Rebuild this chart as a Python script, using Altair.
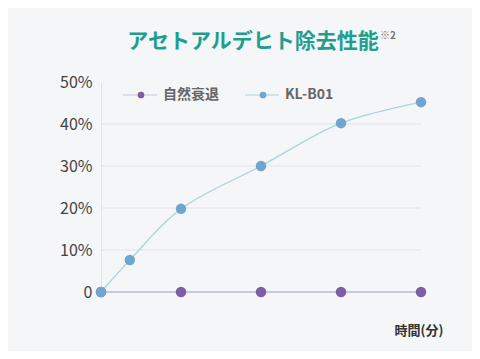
import altair as alt
import pandas as pd

# data
kl_time = [0, 0.36, 1, 2, 3, 4]
kl_vals = [0, 7.6, 19.8, 30.0, 40.2, 45.2]
nat_time = [0, 1, 2, 3, 4]
nat_vals = [0, 0, 0, 0, 0]
series_names = ["自然衰退", "KL-B01"]
y_ticks = [0, 10, 20, 30, 40, 50]
grid_vals = [10, 20, 30, 40]
title_text = "アセトアルデヒト除去性能"
title_note = "※2"
x_title = "時間(分)"

kl = pd.DataFrame({"t": kl_time, "v": kl_vals, "s": series_names[1]})
nat = pd.DataFrame({"t": nat_time, "v": nat_vals, "s": series_names[0]})
grid = pd.DataFrame({"g": grid_vals})

PURPLE_LINE = "#cdc5da"
PURPLE_DOT = "#7c5fa6"
BLUE_LINE = "#a9d3dd"
BLUE_DOT = "#70a5d2"

xs = alt.Scale(domain=[0, 4])
ys = alt.Scale(domain=[0, 50])

x_enc = alt.X("t:Q", scale=xs, axis=None)
y_axis = alt.Axis(values=y_ticks, grid=False, ticks=False, domain=True,
                  domainColor="#dfe3e6", labelFontSize=16, labelColor="#444444",
                  labelFont="Noto Sans CJK JP", labelFontWeight=400, labelPadding=9,
                  labelExpr="datum.value == 0 ? '0' : datum.value + '%'", title=None)
y_enc = alt.Y("v:Q", scale=ys, axis=y_axis)

gridlines = alt.Chart(grid).mark_rule(color="#dde5e8", strokeWidth=1).encode(
    y=alt.Y("g:Q", scale=ys, axis=y_axis), x=alt.value(0), x2=alt.value(320))

nat_line = alt.Chart(nat).mark_line(color=PURPLE_LINE, strokeWidth=2).encode(x=x_enc, y=y_enc)
kl_line = alt.Chart(kl).mark_line(color=BLUE_LINE, strokeWidth=1.3, interpolate="catmull-rom").encode(x=x_enc, y=y_enc)
nat_pts = alt.Chart(nat).mark_circle(color=PURPLE_DOT, size=110, opacity=1).encode(x=x_enc, y=y_enc)
kl_pts = alt.Chart(kl).mark_circle(color=BLUE_DOT, size=110, opacity=1).encode(x=x_enc, y=y_enc)

# legend
leg = pd.DataFrame({"s": series_names, "lx": [40, 162], "c": [PURPLE_DOT, BLUE_DOT],
                    "lc": [PURPLE_LINE, BLUE_LINE]})
leg_layers = []
for i, row in leg.iterrows():
    d = leg.iloc[[i]]
    leg_layers.append(alt.Chart(d).mark_rule(color=row["lc"], strokeWidth=1).encode(
        x=alt.value(row["lx"] - 18), x2=alt.value(row["lx"] + 16), y=alt.value(13)))
    leg_layers.append(alt.Chart(d).mark_circle(color=row["c"], size=45, opacity=1).encode(
        x=alt.value(row["lx"]), y=alt.value(13)))
    leg_layers.append(alt.Chart(d).mark_text(align="left", baseline="middle", fontSize=14,
                                             font="Noto Sans CJK JP", fontWeight="bold",
                                             color="#666666").encode(
        x=alt.value(row["lx"] + 22), y=alt.value(13), text="s:N"))

tdf = pd.DataFrame({"a": [title_text], "b": [title_note], "c": [x_title]})
title_m = alt.Chart(tdf).mark_text(align="center", baseline="middle", fontSize=21,
                                   font="Noto Sans CJK JP", fontWeight="bold",
                                   color="#1e9e8e").encode(
    x=alt.value(152), y=alt.value(-40), text="a:N")
note_m = alt.Chart(tdf).mark_text(align="left", baseline="middle", fontSize=10,
                                  font="Noto Sans CJK JP", fontWeight="bold",
                                  color="#777777").encode(
    x=alt.value(279), y=alt.value(-46), text="b:N")
xt_m = alt.Chart(tdf).mark_text(align="center", baseline="middle", fontSize=13,
                                font="Noto Sans CJK JP", fontWeight="bold",
                                color="#333333").encode(
    x=alt.value(318), y=alt.value(39 + 210), text="c:N")

chart = alt.layer(gridlines, nat_line, kl_line, nat_pts, kl_pts, *leg_layers,
                  title_m, note_m, xt_m).properties(
    width=320, height=210,
    autosize=alt.AutoSizeParams(type="none"),
    padding={"left": 93, "top": 74, "right": 51, "bottom": 59},
    background="#f4f6f8",
).configure_view(stroke=None)

chart.save("out.html", embed_options={"renderer": "svg", "actions": False})
